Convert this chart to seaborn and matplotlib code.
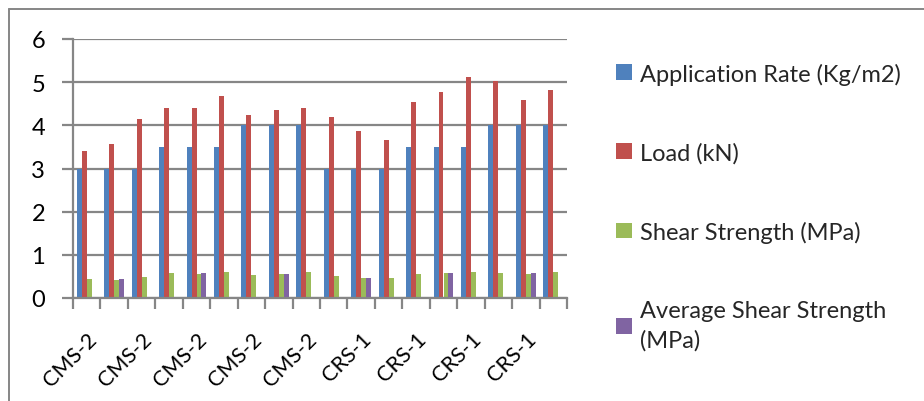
import numpy as np
import pandas as pd
import matplotlib
matplotlib.use("Agg")
import matplotlib.pyplot as plt
from matplotlib.lines import Line2D
from matplotlib.transforms import ScaledTranslation
import seaborn as sns

# Sample groups (one bar group per specimen)
sample_names = ["CMS-2"] * 9 + ["CRS-1"] * 9

application_rate = [3.0, 3.0, 3.0, 3.5, 3.5, 3.5, 4.0, 4.0, 4.0,
                    3.0, 3.0, 3.0, 3.5, 3.5, 3.5, 4.0, 4.0, 4.0]
load_kn = [3.41, 3.57, 4.15, 4.39, 4.39, 4.67, 4.23, 4.35, 4.39,
           4.20, 3.86, 3.67, 4.53, 4.78, 5.12, 5.03, 4.59, 4.81]
shear_strength = [0.43, 0.42, 0.48, 0.58, 0.56, 0.61, 0.53, 0.56, 0.60,
                  0.50, 0.47, 0.46, 0.55, 0.58, 0.61, 0.58, 0.56, 0.61]
avg_shear_strength = [np.nan, 0.45, np.nan, np.nan, 0.58, np.nan, np.nan, 0.56, np.nan,
                      np.nan, 0.47, np.nan, np.nan, 0.58, np.nan, np.nan, 0.58, np.nan]

series_labels = ["Application Rate (Kg/m2)", "Load (kN)",
                 "Shear Strength (MPa)", "Average Shear Strength\n(MPa)"]
series_colors = ["#4F81BD", "#C0504D", "#9BBB59", "#8064A2"]

y_ticks = [0, 1, 2, 3, 4, 5, 6]

n = len(sample_names)
df = pd.DataFrame({
    "sample": np.tile(np.arange(n), 4),
    "series": np.repeat(series_labels, n),
    "value": application_rate + load_kn + shear_strength + avg_shear_strength,
})

sns.set_theme(style="white")
plt.rcParams["font.family"] = ["Lato", "DejaVu Sans"]

grey = "#868686"
fs = 17
fig = plt.figure(figsize=(9.24, 4.02), dpi=100)
ax = fig.add_axes([73 / 924, 1 - 299 / 402, (567 - 73) / 924, (299 - 40) / 402])

sns.barplot(data=df, x="sample", y="value", hue="series", hue_order=series_labels,
            palette=series_colors, width=4 / 5.5, gap=0, saturation=1,
            errorbar=None, ax=ax, legend=True, edgecolor="none")

ax.set_xlim(-0.5, n - 0.5)
ax.set_ylim(0, 6)
ax.set_yticks(y_ticks)
ax.set_yticklabels([str(t) for t in y_ticks], fontsize=fs, color="black")
ax.yaxis.grid(True, color=grey, linewidth=1.6)
ax.set_axisbelow(True)

# category boundary ticks on the x axis, labels on every other group
ax.set_xticks(np.arange(-0.5, n, 1.0))
ax.set_xticklabels([])
ax.set_xticks(np.arange(0, n, 2), minor=True)
ax.set_xticklabels([sample_names[i] for i in range(0, n, 2)], minor=True,
                   rotation=45, ha="right", va="top", rotation_mode="anchor",
                   fontsize=15.5, color="black")
shift = ScaledTranslation(6 / 100, 0, fig.dpi_scale_trans)
for lbl in ax.get_xticklabels(minor=True):
    lbl.set_transform(lbl.get_transform() + shift)
ax.tick_params(axis="x", which="major", direction="out", length=8, width=1.6,
               color=grey, bottom=True)
ax.tick_params(axis="x", which="minor", length=0, pad=22)
ax.tick_params(axis="y", direction="out", length=8, width=1.6, color=grey,
               left=True, pad=12)
ax.set_xlabel("")
ax.set_ylabel("")

for side in ["top", "right"]:
    ax.spines[side].set_visible(False)
for side in ["left", "bottom"]:
    ax.spines[side].set_color(grey)
    ax.spines[side].set_linewidth(1.6)

handles, labels = ax.get_legend_handles_labels()
ax.legend_.remove()
leg = fig.legend(handles, labels, loc="upper left", bbox_to_anchor=(607 / 924, 1 - 54 / 402),
                 frameon=False, fontsize=fs, handlelength=0.65, handleheight=0.65,
                 handletextpad=0.35, labelspacing=2.43, borderaxespad=0)
for t in leg.get_texts():
    t.set_linespacing(1.45)

# chart frame (top and left edges)
fig.add_artist(Line2D([9 / 924, 9 / 924], [0, 1 - 10 / 402], transform=fig.transFigure,
                      color=grey, linewidth=1.4))
fig.add_artist(Line2D([9 / 924, 1], [1 - 10 / 402, 1 - 10 / 402], transform=fig.transFigure,
                      color=grey, linewidth=1.4))

fig.savefig("out.png", dpi=100)
